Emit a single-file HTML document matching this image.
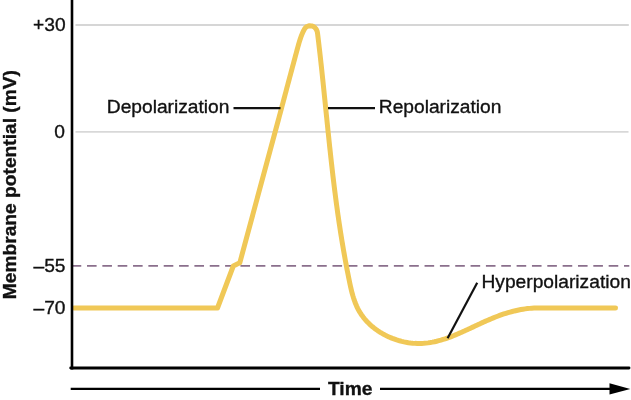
<!DOCTYPE html>
<html><head><meta charset="utf-8"><style>
html,body{margin:0;padding:0;background:#fff;}
body{width:631px;height:400px;overflow:hidden;position:relative;}
svg{position:absolute;left:0;top:0;will-change:transform;}
text{font-family:"Liberation Sans",sans-serif;font-size:19.2px;fill:#111;stroke:#111;stroke-width:0.35px;}
</style></head><body>
<svg width="631" height="400" viewBox="0 0 631 400">
<line x1="75.5" y1="25.0" x2="628.8" y2="25.0" stroke="#d6d6d6" stroke-width="1.9"/>
<line x1="75.5" y1="131.9" x2="628.5" y2="131.9" stroke="#d8d8d8" stroke-width="1.9"/>
<line x1="71.66" y1="265.85" x2="629.3" y2="265.85" stroke="#8a6f8c" stroke-width="1.9" stroke-dasharray="9.6 5.743"/>
<path d="M74 308.0 L217.5 308.0 L233.3 266 L239.8 262.8 L278.35 120 L278.36 120.00 L278.93 117.85 L279.50 115.70 L280.07 113.56 L280.65 111.41 L281.22 109.26 L281.79 107.11 L282.36 104.95 L282.93 102.80 L283.51 100.65 L284.08 98.50 L284.65 96.34 L285.23 94.19 L285.80 92.03 L286.37 89.88 L286.94 87.72 L287.52 85.57 L288.09 83.41 L288.67 81.26 L289.24 79.11 L289.82 76.95 L290.39 74.80 L290.97 72.65 L291.54 70.49 L292.12 68.34 L292.69 66.19 L293.27 64.04 L293.85 61.89 L294.43 59.74 L295.01 57.60 L295.58 55.45 L296.16 53.31 L296.74 51.17 L297.32 49.02 L297.91 46.88 L298.49 44.75 L299.10 42.61 L299.75 40.49 L300.44 38.37 L301.19 36.26 L301.73 34.86 L302.31 33.46 L302.93 32.07 L303.59 30.69 L304.33 29.35 L305.64 27.60 L307.33 26.34 L309.41 25.77 L311.65 25.91 L313.08 26.40 L314.36 27.19 L315.47 28.23 L316.36 29.45 L317.21 31.51 L317.60 33.69 L317.86 35.89 L318.13 38.10 L318.39 40.31 L318.66 42.51 L318.92 44.72 L319.17 46.93 L319.43 49.14 L319.68 51.35 L319.93 53.56 L320.18 55.78 L320.43 57.99 L320.67 60.20 L320.92 62.41 L321.16 64.63 L321.40 66.84 L321.64 69.06 L321.88 71.27 L322.11 73.49 L322.35 75.70 L322.58 77.92 L322.82 80.13 L323.05 82.35 L323.28 84.57 L323.51 86.79 L323.74 89.00 L323.97 91.22 L324.20 93.44 L324.42 95.66 L324.65 97.87 L324.88 100.09 L325.10 102.31 L325.33 104.53 L325.56 106.75 L325.78 108.97 L326.01 111.19 L326.23 113.40 L326.46 115.62 L326.69 117.84 L326.91 120.06 L327.14 122.28 L327.37 124.49 L327.60 126.71 L327.82 128.93 L328.05 131.15 L328.28 133.36 L328.51 135.58 L328.75 137.80 L328.98 140.01 L329.21 142.23 L329.45 144.45 L329.68 146.66 L329.92 148.88 L330.16 151.09 L330.40 153.30 L330.64 155.52 L330.88 157.73 L331.13 159.94 L331.37 162.16 L331.62 164.37 L331.87 166.58 L332.12 168.79 L332.38 171.00 L332.64 173.21 L332.89 175.42 L333.15 177.62 L333.42 179.83 L333.68 182.04 L333.95 184.24 L334.22 186.45 L334.49 188.65 L334.77 190.85 L335.05 193.06 L335.33 195.26 L335.61 197.46 L335.90 199.66 L336.19 201.86 L336.48 204.05 L336.78 206.25 L337.08 208.45 L337.38 210.64 L337.69 212.84 L338.00 215.03 L338.32 217.22 L338.63 219.41 L338.95 221.60 L339.28 223.79 L339.61 225.98 L339.94 228.17 L340.28 230.36 L340.62 232.55 L340.97 234.74 L341.32 236.93 L341.67 239.12 L342.03 241.31 L342.40 243.51 L342.76 245.70 L343.14 247.89 L343.51 250.09 L343.90 252.28 L344.29 254.48 L344.68 256.68 L345.08 258.88 L345.48 261.08 L345.89 263.28 L346.30 265.49 L346.72 267.69 L347.15 269.90 L347.43 271.38 L347.72 272.85 L348.01 274.33 L348.31 275.80 L348.60 277.28 L348.90 278.76 L349.21 280.24 L349.51 281.72 L349.82 283.20 L350.14 284.68 L350.46 286.16 L350.79 287.64 L351.13 289.11 L351.49 290.58 L351.85 292.04 L352.24 293.49 L352.84 295.65 L353.49 297.80 L354.19 299.91 L354.93 302.00 L355.74 304.06 L356.61 306.08 L357.54 308.07 L358.55 310.01 L359.64 311.91 L360.80 313.76 L362.04 315.56 L363.35 317.31 L364.73 319.02 L366.17 320.67 L367.68 322.28 L369.24 323.83 L370.87 325.33 L372.55 326.78 L374.28 328.17 L376.06 329.51 L377.89 330.79 L379.76 332.02 L381.68 333.19 L383.63 334.30 L385.62 335.35 L386.96 336.02 L388.32 336.66 L389.69 337.27 L391.08 337.86 L392.47 338.42 L393.88 338.95 L395.30 339.45 L396.72 339.93 L398.16 340.37 L399.60 340.79 L401.77 341.36 L403.96 341.87 L406.16 342.31 L408.36 342.68 L410.57 342.98 L412.78 343.21 L414.99 343.37 L417.20 343.47 L419.40 343.49 L421.59 343.43 L423.77 343.31 L425.94 343.12 L428.10 342.86 L430.25 342.54 L432.39 342.16 L434.53 341.73 L436.66 341.24 L438.78 340.70 L440.90 340.11 L443.00 339.47 L445.11 338.80 L447.20 338.08 L449.30 337.33 L451.38 336.54 L453.46 335.72 L455.54 334.88 L457.62 334.01 L459.00 333.41 L460.38 332.81 L461.76 332.20 L463.14 331.58 L464.51 330.96 L465.89 330.33 L467.26 329.69 L468.64 329.06 L470.01 328.41 L471.39 327.77 L472.76 327.12 L474.13 326.48 L475.51 325.83 L476.88 325.19 L478.25 324.54 L479.63 323.90 L481.00 323.27 L482.37 322.64 L483.75 322.01 L485.12 321.39 L486.50 320.78 L487.88 320.17 L489.26 319.58 L491.33 318.70 L493.40 317.85 L495.48 317.02 L497.56 316.22 L499.65 315.45 L501.74 314.70 L503.84 313.99 L505.94 313.31 L508.05 312.66 L510.17 312.05 L512.29 311.48 L514.42 310.94 L516.56 310.45 L518.71 309.99 L520.87 309.58 L523.03 309.21 L525.21 308.88 L527.40 308.60 L529.60 308.37 L531.81 308.19 L534.03 308.06 L536.27 307.98 L538.52 307.96 L540.02 307.98 L540.02 307.98 L615.5 308.0" fill="none" stroke="#f0c857" stroke-width="5.0" stroke-linejoin="round" stroke-linecap="round"/>
<line x1="233.5" y1="108.2" x2="280.5" y2="108.2" stroke="#111" stroke-width="2.2"/>
<line x1="328" y1="108.2" x2="375" y2="108.2" stroke="#111" stroke-width="2.2"/>
<line x1="447.6" y1="338.3" x2="477.2" y2="282.7" stroke="#111" stroke-width="2.2"/>
<line x1="72.0" y1="0" x2="72.0" y2="369.4" stroke="#000" stroke-width="2.6"/>
<line x1="70.7" y1="368" x2="629" y2="368" stroke="#000" stroke-width="2.9" stroke-linecap="round"/>
<line x1="70.7" y1="388.9" x2="320" y2="388.9" stroke="#000" stroke-width="2.1"/>
<line x1="380" y1="388.9" x2="611" y2="388.9" stroke="#000" stroke-width="2.1"/>
<polygon points="609.5,383.3 630.3,388.9 609.5,394.4" fill="#000"/>
<text x="65.6" y="30.6" text-anchor="end">+30</text>
<text x="65" y="137.6" text-anchor="end">0</text>
<text x="65.5" y="271.6" text-anchor="end">–55</text>
<text x="65.5" y="313.5" text-anchor="end">–70</text>
<text x="106.8" y="113" >Depolarization</text>
<text x="378.8" y="113" >Repolarization</text>
<text x="481.5" y="288.0" >Hyperpolarization</text>
<text x="328" y="395.2" font-weight="bold">Time</text>
<text transform="translate(16.3 299.2) rotate(-90)" font-weight="bold">Membrane potential (mV)</text>
</svg>
</body></html>
